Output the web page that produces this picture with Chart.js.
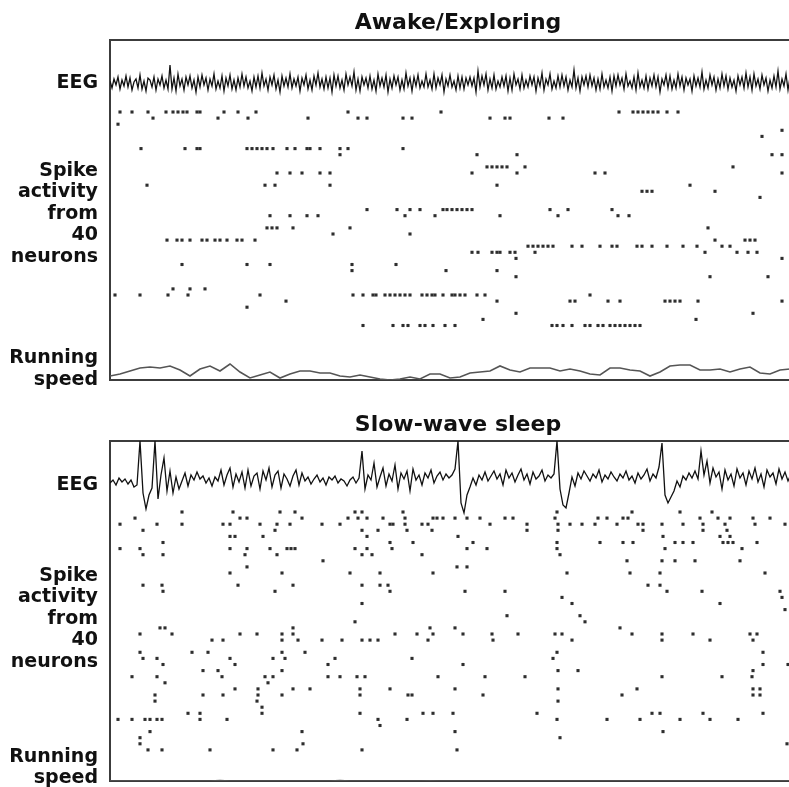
<!DOCTYPE html>
<html>
<head>
<meta charset="utf-8">
<script src="https://cdn.jsdelivr.net/npm/chart.js@4.4.0/dist/chart.umd.min.js"></script>
<style>
  html, body { margin: 0; padding: 0; background: #fff; overflow: hidden; width: 789px; height: 787px; }
  .panel { position: absolute; left: 0; }
</style>
</head>
<body>
<div class="panel" style="top:0"><canvas id="awake" width="830" height="410"></canvas></div>
<div class="panel" style="top:400px"><canvas id="sleep" width="830" height="410"></canvas></div>
<script>
// ---- data (time in s, EEG in a.u., speed in cm/s) ----
const T_MAX = 6.96;
const AWAKE_EEG_DT = 0.02;
const SLEEP_EEG_DT = 0.03;
const SPEED_DT = 0.1;
const rowLabels = ['EEG', ['Spike', 'activity', 'from', '40', 'neurons'], ['Running', 'speed']];

const awakeEeg = [
  2,-5,4,-2,6,-6,3,-3,7,-4, 5,-7,1,4,-5,8,-6,2,-8,5, 3,-4,6,-7,4,-2,7,-5,3,-6,
  18,-6,5,-8,9,-3,4,-7,6,-2, 7,-5,3,-9,6,-4,8,-2,5,-7, 4,-3,9,-6,2,-5,7,-8,5,-3,
  8,-6,3,-7,5,-4,9,-3,6,-5, 2,-8,6,-4,7,-5,10,-3,4,-7, 6,-2,8,-6,3,-9,7,-3,5,-4,
  9,-5,4,-3,6,-8,5,-2,8,-6, 3,-7,7,-2,10,-4,4,-6,6,-5, 5,-9,8,-3,7,-5,3,-7,9,-2,
  6,-3,11,-7,4,-8,6,-2,5,-5, 7,-6,3,-8,9,-3,5,-4,8,-9, 4,-5,7,-2,6,-7,3,-6,10,-3,
  5,-8,6,-3,8,-5,2,-4,9,-4, 3,-6,9,-5,5,-2,8,-9,4,-3, 8,-4,2,-7,7,-5,6,-6,5,-2,
  6,-3,5,-9,12,-4,7,-2,9,-7, 4,-5,8,-6,2,-4,6,-3,7,-8, 5,-7,9,-2,4,-6,8,-5,3,-4,
  7,-2,6,-8,5,-3,10,-7,4,-2, 9,-6,2,-5,7,-4,8,-3,6,-7, 3,-4,13,-5,5,-8,6,-2,7,-4,
  8,-3,5,-7,4,-6,9,-4,3,-5, 6,-8,7,-3,8,-2,5,-6,9,-3, 2,-5,6,-7,10,-4,3,-5,7,-6,
  5,-3,8,-4,6,-9,4,-2,8,-5, 7,-6,3,-5,9,-3,6,-7,5,-2, 4,-8,7,-3,5,-4,11,-6,3,-5,
  8,-2,6,-7,4,-5,9,-3,7,-6, 5,-4,3,-8,7,-2,6,-5,10,-4, 6,-7,9,-3,4,-6,8,-2,5,-8,
  3,-5,7,-4,12,-6,4,-3,9,-7, 6,-2,8,-5,5,-4,7,-6
];

const sleepEeg = [
  0,3,-2,5,1,4,-1,3,-4,-2, 42,-10,-26,-12,-5,42,-16,8,25,-8, 12,-10,6,-6,2,10,-3,8,3,11,
  4,7,0,5,-3,6,2,13,-2,8, 15,-4,9,1,11,-5,13,-3,7,10, -6,12,3,15,-4,8,12,-5,9,4,
  -3,7,13,-2,10,2,6,-1,4,8, 1,5,-2,6,3,7,0,4,2,-3, 3,6,0,5,32,-6,8,3,20,-4,
  6,15,-3,9,2,18,-6,10,4,12, -8,14,3,8,-2,10,5,13,0,7, 11,3,9,5,8,14,42,-20,-30,-12,
  -4,5,-2,8,3,11,2,7,12,4, 9,-2,13,5,10,1,8,14,3,9, -1,11,4,7,13,2,8,5,9,42,
  -6,-22,-25,-10,6,-3,10,4,12,7, 2,9,5,13,1,8,4,11,6,2, 9,5,12,3,7,0,10,4,8,14,
  2,9,5,16,40,-12,-20,-14,-8,2, -4,7,3,10,5,12,4,32,8,22, 0,15,6,11,-6,13,3,9,-3,14,
  5,10,-2,12,4,15,1,9,-4,13, 6,10,-1,14,4,11,2,9,5,12, 3,8
];

const awakeSpeed = [
  4,6,9,12,13,12,14,10,4,11, 14,9,16,8,2,5,8,2,6,9, 9,7,7,4,3,5,3,1,0,1,
  3,1,6,6,2,3,7,8,9,14, 10,8,12,12,12,9,11,9,6,5, 12,12,10,9,4,8,14,15,15,10,
  10,11,8,11,13,7,6,10,11,11
];

const sleepSpeed = [
  0,0,0,0,0,0,0,0,0,0, 0,0.5,0,0,0,0,0,0,0,0, 0,0,0,0.5,0,0,0,0,0,0,
  0,0,0.3,0,0,0,0,0,0,0, 0,0,0,0,0,0,0,0,0,0, 0,0,0,0,0,0,0,0,0,0,
  0,0,0,0,0,0,0,0,0,0
];

// [neuron, spike times]
const awakeRaster = [
  [1, [0.10,0.22,0.38,0.56,0.63,0.68,0.73,0.77,0.87,0.90,1.14,1.28,1.46,2.38,3.31,5.09,5.23,5.28,5.33,5.38,5.43,5.48,5.57,5.68]],
  [2, [0.43,1.08,1.38,1.98,2.48,2.57,2.93,3.02,3.80,3.95,4.00,4.39,4.53]],
  [3, [0.08]],
  [4, [6.72]],
  [5, [6.52]],
  [7, [0.31,0.75,0.87,0.90,1.37,1.42,1.47,1.52,1.57,1.63,1.77,1.85,1.97,2.00,2.10,2.30,2.38,2.93]],
  [8, [2.30,3.67,4.07,6.62,6.72]],
  [10, [3.77,3.82,3.87,3.92,3.97,4.15,6.23]],
  [11, [1.67,1.80,1.92,2.10,2.20,3.62,4.07,4.85,4.95,6.72]],
  [13, [0.37,1.55,1.65,2.20,3.87,5.80]],
  [14, [5.32,5.37,5.42,6.05]],
  [15, [6.50]],
  [17, [2.57,2.87,3.00,3.10,3.33,3.37,3.42,3.47,3.52,3.57,3.62,4.40,4.58,5.02]],
  [18, [1.60,1.80,1.97,2.08,2.95,3.25,3.90,4.48,5.08,5.19]],
  [20, [1.57,1.62,1.67,1.83,2.40,5.98]],
  [21, [2.23,3.00]],
  [22, [0.57,0.67,0.72,0.80,0.92,0.97,1.05,1.10,1.17,1.27,1.32,1.45,6.05,6.35,6.40,6.45]],
  [23, [4.18,4.23,4.28,4.33,4.38,4.43,4.62,4.72,4.90,5.02,5.07,5.27,5.32,5.42,5.57,5.73,5.87,6.12,6.20]],
  [24, [3.62,3.68,3.82,3.87,3.90,4.00,4.05,4.25,5.95,6.27,6.38,6.47]],
  [25, [4.06,6.72]],
  [26, [0.72,1.37,1.60,2.42,2.86]],
  [27, [2.42,3.36,3.87]],
  [28, [4.06,6.00,6.58]],
  [30, [0.63,0.80,0.95]],
  [31, [0.05,0.30,0.58,0.78,1.50,2.43,2.53,2.63,2.66,2.75,2.80,2.85,2.90,2.95,3.00,3.12,3.17,3.22,3.25,3.33,3.42,3.45,3.50,3.55,3.67,3.75,4.80]],
  [32, [1.76,3.87,4.60,4.65,4.98,5.10,5.55,5.60,5.65,5.70,5.88,6.72]],
  [33, [1.37]],
  [34, [4.06,6.43]],
  [35, [3.73,5.86]],
  [36, [2.53,2.83,2.93,2.98,3.10,3.15,3.23,3.35,3.45,4.42,4.47,4.53,4.62,4.75,4.80,4.88,4.93,5.00,5.05,5.10,5.15,5.20,5.25,5.30]]
];

const sleepRaster = [
  [1, [0.72,1.23,1.70,1.85,2.45,2.52,2.93,4.47,5.22,5.70,6.02]],
  [2, [0.25,1.30,1.37,1.92,2.38,2.48,2.57,2.73,2.95,3.23,3.27,3.33,3.45,3.57,3.70,3.95,4.03,4.45,4.88,4.97,5.13,5.18,5.90,6.08,6.20,6.43,6.60]],
  [3, [0.10,0.47,0.72,1.13,1.20,1.50,1.67,1.80,2.12,2.30,2.80,2.83,2.95,3.12,3.18,3.80,4.17,4.48,4.60,4.72,4.85,5.07,5.28,5.33,5.52,5.73,5.93,6.15,6.45,6.75]],
  [4, [0.33,1.65,2.52,2.68,2.97,3.22,4.17,4.48,5.33,5.93,6.17]],
  [5, [1.20,1.25,1.53,2.57,3.48,5.53,6.10,6.20]],
  [6, [0.53,2.80,3.03,3.63,4.47,4.90,5.13,5.23,5.65,5.73,5.83,6.13,6.18,6.23,6.47]],
  [7, [0.10,0.30,1.20,1.37,1.60,1.77,1.81,1.85,2.45,2.57,2.82,3.57,3.77,4.47,5.55,6.32]],
  [8, [0.33,0.53,1.35,1.67,2.52,2.62,3.12,4.50]],
  [9, [2.13,5.17,5.52,5.65,5.85,6.30]],
  [10, [1.37,3.47,3.57]],
  [11, [1.20,1.72,2.40,2.70,3.23,4.57,5.20,5.50,6.55]],
  [13, [0.33,0.52,1.28,1.83,2.52,2.70,2.78,5.38,5.50]],
  [14, [0.53,1.65,2.80,3.55,3.95,5.57,5.92,6.70]],
  [15, [4.52,6.72]],
  [16, [2.52,4.62,6.10]],
  [17, [6.75]],
  [18, [3.97,4.70]],
  [19, [2.45,4.75]],
  [20, [0.50,0.55,1.83,3.20,3.45,5.10]],
  [21, [0.30,0.62,1.30,1.47,1.72,1.83,2.85,3.07,3.23,3.53,3.82,4.08,4.45,4.52,5.22,5.52,5.83,6.40,6.47]],
  [22, [1.02,1.13,1.72,1.88,2.12,2.32,2.52,2.60,2.68,3.18,3.83,4.62,5.52,6.00,6.43]],
  [24, [0.30,0.82,0.98,1.72,1.95,4.47,6.53]],
  [25, [0.33,0.47,1.20,1.63,1.75,2.25,3.02,4.43]],
  [26, [0.53,1.25,2.18,3.53,6.53,6.78]],
  [27, [0.93,1.08,1.72,4.48,4.68,6.43]],
  [28, [0.22,0.47,1.12,1.55,1.63,2.18,2.30,2.47,2.55,3.28,3.75,4.15,5.52,6.12,6.42]],
  [29, [0.55,1.58]],
  [30, [1.25,1.48,1.83,2.00,2.50,2.80,3.45,4.48,5.27,6.43,6.50]],
  [31, [0.45,0.93,1.13,1.48,1.72,2.50,2.98,3.02,3.73,5.12,6.43,6.50]],
  [32, [0.45,1.47,4.48]],
  [33, [1.52]],
  [34, [0.78,0.90,1.52,2.50,3.13,3.23,3.43,4.27,5.42,5.50,5.93,6.53]],
  [35, [0.08,0.22,0.35,0.40,0.47,0.52,0.90,1.17,2.68,2.97,4.47,4.97,5.30,5.70,6.00,6.28]],
  [36, [2.70]],
  [37, [0.40,1.92,3.45,5.53]],
  [38, [0.30,4.50]],
  [39, [0.30,1.93,6.77]],
  [40, [0.38,0.52,1.00,1.63,1.87,2.52,3.47]]
];

// ---- drawing ----
// y axis runs in panel layout units (0 = top of frame, 340 = bottom)
const ROW_STEP = 6.1;
const FONT = "'DejaVu Sans', sans-serif";
const FRAME = { display: true, color: '#3c3c3c', width: 2 };

function buildPanel(id, cfg) {
  const eegPts = cfg.eeg.map((v, i) => ({ x: i * cfg.eegDt, y: cfg.eegRow - v }));
  const spikePts = [];
  cfg.raster.forEach(([n, times]) => times.forEach(t => spikePts.push({ x: t, y: cfg.spikeTop + (n - 1) * ROW_STEP })));
  const speedPts = cfg.speed.map((v, i) => ({ x: i * SPEED_DT, y: 340 - v }));

  const flatX = pos => ({
    type: 'linear', position: pos, min: 0, max: T_MAX,
    grid: { display: false }, ticks: { display: false }, border: FRAME,
    afterFit: s => { s.height = 0; }
  });

  return new Chart(document.getElementById(id), {
    type: 'scatter',
    data: {
      datasets: [
        { data: eegPts, showLine: true, borderColor: '#111', borderWidth: 1.3, pointRadius: 0 },
        { data: spikePts, pointStyle: 'rect', pointRadius: 2.2, backgroundColor: '#2e2e2e', borderWidth: 0 },
        { data: speedPts, showLine: true, borderColor: '#555', borderWidth: 1.6, pointRadius: 0 }
      ]
    },
    options: {
      responsive: false,
      animation: false,
      events: [],
      layout: { padding: { left: 0, top: 0, right: 24, bottom: cfg.padBottom } },
      plugins: {
        legend: { display: false },
        tooltip: { enabled: false },
        title: {
          display: true, text: cfg.title, fullSize: false, color: '#111',
          font: { family: FONT, size: 22, weight: 'bold' },
          padding: { top: cfg.titleTop, bottom: cfg.titleBottom }
        }
      },
      scales: {
        x: flatX('bottom'),
        xTop: flatX('top'),
        y: {
          type: 'linear', min: 0, max: 340, reverse: true,
          grid: { display: false }, border: FRAME,
          afterBuildTicks: s => { s.ticks = cfg.labelAt.map(v => ({ value: v })); },
          afterFit: s => { s.width = 110; s.paddingTop = 0; s.paddingBottom = 0; },
          ticks: {
            font: { family: FONT, size: 19, weight: 'bold', lineHeight: 1.13 }, color: '#111',
            padding: 4, autoSkip: false,
            callback: (v, i) => rowLabels[i]
          }
        }
      }
    }
  });
}

buildPanel('awake', {
  title: 'Awake/Exploring', eeg: awakeEeg, eegDt: AWAKE_EEG_DT, raster: awakeRaster, speed: awakeSpeed,
  eegRow: 43, spikeTop: 72, labelAt: [43, 174, 329],
  titleTop: 10.5, titleBottom: 3.1, padBottom: 30
});
buildPanel('sleep', {
  title: 'Slow-wave sleep', eeg: sleepEeg, eegDt: SLEEP_EEG_DT, raster: sleepRaster, speed: sleepSpeed,
  eegRow: 42, spikeTop: 71, labelAt: [44, 178, 326.5],
  titleTop: 12, titleBottom: 2.6, padBottom: 29
});
</script>
</body>
</html>
